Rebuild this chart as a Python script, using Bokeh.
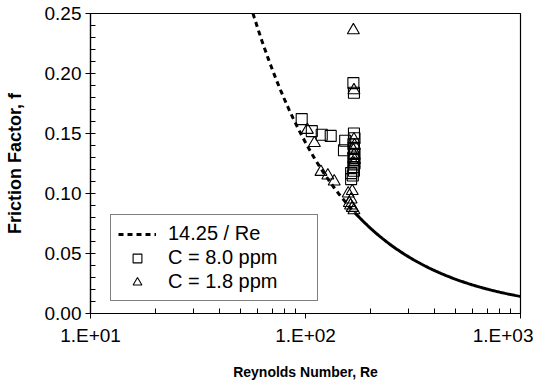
import numpy as np
from bokeh.plotting import figure
from bokeh.models import FixedTicker, Legend, LegendItem
from bokeh.embed import file_html
from bokeh.resources import INLINE

# ---- data ----
coef = 14.25
re_fit_dash = np.geomspace(57, 170, 80)
re_fit_solid = np.geomspace(170, 1000, 120)

re_c8 = [96, 107, 119, 131, 153, 151, 163, 163, 167, 168,
         168, 169, 167, 168, 169, 167, 168, 169, 167, 168, 166]
f_c8 = [0.162, 0.152, 0.149, 0.148, 0.144, 0.136, 0.117, 0.112, 0.192, 0.184,
        0.150, 0.146, 0.141, 0.138, 0.133, 0.130, 0.128, 0.125, 0.122, 0.119, 0.115]

re_c18 = [102, 110, 118, 127, 136, 158, 165, 163, 160, 165, 168, 162, 167, 168,
          168, 169, 167, 168, 169, 168]
f_c18 = [0.153, 0.142, 0.118, 0.115, 0.110, 0.100, 0.102, 0.095, 0.092, 0.088,
         0.086, 0.090, 0.236, 0.186, 0.145, 0.140, 0.136, 0.132, 0.128, 0.125]

x_ticks = [10, 100, 1000]
x_labels = ["1.E+01", "1.E+02", "1.E+03"]
y_ticks = [0.0, 0.05, 0.10, 0.15, 0.20, 0.25]
y_labels = ["0.00", "0.05", "0.10", "0.15", "0.20", "0.25"]

FONT = "Liberation Sans"

p = figure(frame_width=430, frame_height=300, x_axis_type="log", x_range=(10, 1000), y_range=(0, 0.25),
           output_backend="svg", toolbar_location=None,
           min_border_left=90, min_border_right=13, min_border_top=13, min_border_bottom=40)
p.xgrid.visible = False
p.ygrid.visible = False
p.outline_line_color = "black"
p.outline_line_width = 1.2
p.background_fill_color = "white"
p.border_fill_color = "white"

r_dash = p.line(re_fit_dash, coef / re_fit_dash, line_color="black", line_width=3, line_dash="5 4")
p.line(re_fit_solid, coef / re_fit_solid, line_color="black", line_width=3)
r_sq = p.scatter(re_c8, f_c8, marker="square", size=11, fill_color=None, line_color="black", line_width=1.1)
r_tr = p.scatter(re_c18, f_c18, marker="triangle", size=12, fill_color=None, line_color="black", line_width=1.1)

# axes
minor_x = [v * d for d in (10, 100) for v in range(2, 10)]
p.xaxis.ticker = FixedTicker(ticks=x_ticks, minor_ticks=minor_x)
p.xaxis.major_label_overrides = {t: l for t, l in zip(x_ticks, x_labels)}
minor_y = [round(i * 0.01, 2) for i in range(0, 26)]
p.yaxis.ticker = FixedTicker(ticks=y_ticks, minor_ticks=minor_y)
p.yaxis.major_label_overrides = {t: l for t, l in zip(y_ticks, y_labels)}

for ax in (p.xaxis[0], p.yaxis[0]):
    ax.axis_line_color = "black"
    ax.axis_line_width = 1.2
    ax.major_tick_line_color = "black"
    ax.minor_tick_line_color = "black"
    ax.major_tick_out = 5
    ax.major_tick_in = 0
    ax.minor_tick_out = 0
    ax.minor_tick_in = 5
    ax.major_label_text_font = FONT
    ax.major_label_text_font_size = "19px"
    ax.major_label_text_color = "black"
    ax.axis_label_text_font = FONT
    ax.axis_label_text_font_style = "bold"
    ax.axis_label_text_color = "black"

p.xaxis.axis_label = "Reynolds Number, Re"
p.yaxis.axis_label = "Friction Factor, f"
p.xaxis.axis_label_text_font_size = "14px"
p.yaxis.axis_label_text_font_size = "18px"
p.xaxis.major_label_standoff = 6
p.xaxis.axis_label_standoff = 15
p.yaxis.major_label_standoff = 4
p.yaxis.axis_label_standoff = 17

legend = Legend(items=[
    LegendItem(label="14.25 / Re", renderers=[r_dash]),
    LegendItem(label="C = 8.0 ppm", renderers=[r_sq]),
    LegendItem(label="C = 1.8 ppm", renderers=[r_tr]),
], location=(20, 12))
legend.border_line_color = "black"
legend.border_line_width = 1
legend.background_fill_alpha = 1
legend.label_text_font = FONT
legend.label_text_font_size = "20px"
legend.label_text_color = "black"
legend.glyph_width = 38
legend.glyph_height = 22
legend.label_height = 22
legend.label_width = 142
legend.label_standoff = 12
legend.spacing = 1
legend.padding = 7
legend.margin = 0
p.add_layout(legend, "center")

open("out.html", "w").write(file_html(p, INLINE))
